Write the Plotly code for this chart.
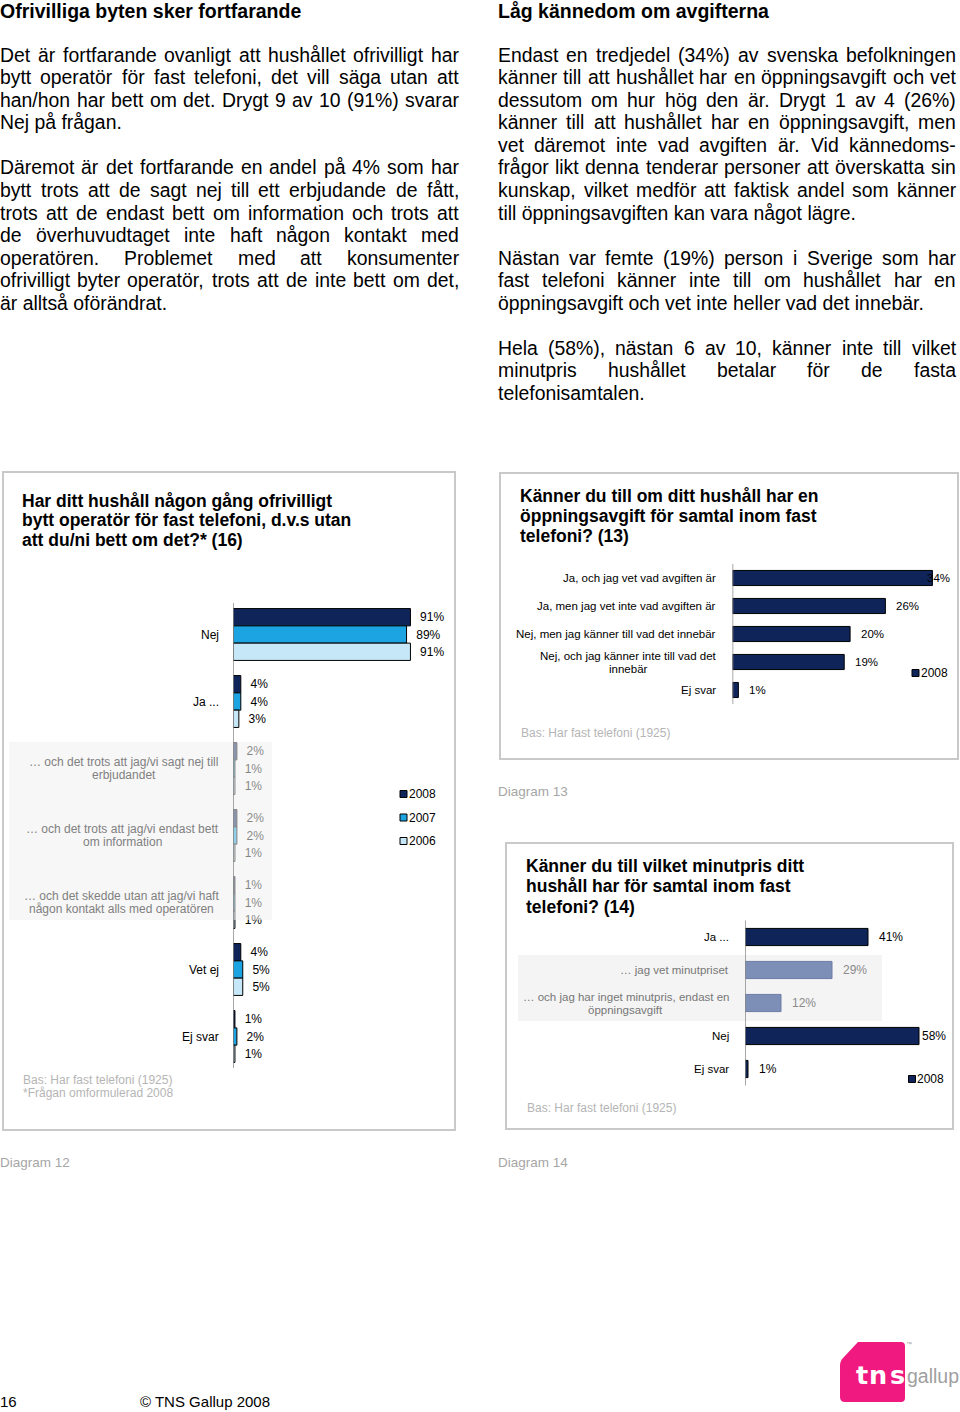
import plotly.graph_objects as go

PAGE_W, PAGE_H = 960, 1412
FONT = "Liberation Sans, Arial, Helvetica, sans-serif"

# ------------------------------------------------------------------ page text
left_heading = "Ofrivilliga byten sker fortfarande"
left_paragraphs = [
    ["Det är fortfarande ovanligt att hushållet ofrivilligt har",
     "bytt operatör för fast telefoni, det vill säga utan att",
     "han/hon har bett om det. Drygt 9 av 10 (91%) svarar",
     "Nej på frågan."],
    ["Däremot är det fortfarande en andel på 4% som har",
     "bytt trots att de sagt nej till ett erbjudande de fått,",
     "trots att de endast bett om information och trots att",
     "de överhuvudtaget inte haft någon kontakt med",
     "operatören. Problemet med att konsumenter",
     "ofrivilligt byter operatör, trots att de inte bett om det,",
     "är alltså oförändrat."],
]
right_heading = "Låg kännedom om avgifterna"
right_paragraphs = [
    ["Endast en tredjedel (34%) av svenska befolkningen",
     "känner till att hushållet har en öppningsavgift och vet",
     "dessutom om hur hög den är. Drygt 1 av 4 (26%)",
     "känner till att hushållet har en öppningsavgift, men",
     "vet däremot inte vad avgiften är. Vid kännedoms-",
     "frågor likt denna tenderar personer att överskatta sin",
     "kunskap, vilket medför att faktisk andel som känner",
     "till öppningsavgiften kan vara något lägre."],
    ["Nästan var femte (19%) person i Sverige som har",
     "fast telefoni känner inte till om hushållet har en",
     "öppningsavgift och vet inte heller vad det innebär."],
    ["Hela (58%), nästan 6 av 10, känner inte till vilket",
     "minutpris hushållet betalar för de fasta",
     "telefonisamtalen."],
]

# ------------------------------------------------------------------ chart 12 data
d12_title = ["Har ditt hushåll någon gång ofrivilligt",
             "bytt operatör för fast telefoni, d.v.s utan",
             "att du/ni bett om det?* (16)"]
d12_categories = ["Nej", "Ja ...",
                  "… och det trots att jag/vi sagt nej till<br>erbjudandet",
                  "… och det trots att jag/vi endast bett<br>om information",
                  "… och det skedde utan att jag/vi haft<br>någon kontakt alls med operatören",
                  "Vet ej", "Ej svar"]
d12_sub_rows = [2, 3, 4]
d12_years = ["2008", "2007", "2006"]
d12_2008 = [91, 4, 2, 2, 1, 4, 1]
d12_2007 = [89, 4, 1, 2, 1, 5, 2]
d12_2006 = [91, 3, 1, 1, 1, 5, 1]
d12_notes = ["Bas: Har fast telefoni (1925)", "*Frågan omformulerad 2008"]
d12_caption = "Diagram 12"

# ------------------------------------------------------------------ chart 13 data
d13_title = ["Känner du till om ditt hushåll har en",
             "öppningsavgift för samtal inom fast",
             "telefoni? (13)"]
d13_categories = ["Ja, och jag vet vad avgiften är",
                  "Ja, men jag vet inte vad avgiften är",
                  "Nej, men jag känner till vad det innebär",
                  "Nej, och jag känner inte till vad det<br>innebär",
                  "Ej svar"]
d13_series = "2008"
d13_2008 = [34, 26, 20, 19, 1]
d13_note = "Bas: Har fast telefoni (1925)"
d13_caption = "Diagram 13"

# ------------------------------------------------------------------ chart 14 data
d14_title = ["Känner du till vilket minutpris ditt",
             "hushåll har för samtal inom fast",
             "telefoni? (14)"]
d14_categories = ["Ja ...", "… jag vet minutpriset",
                  "… och jag har inget minutpris, endast en<br>öppningsavgift",
                  "Nej", "Ej svar"]
d14_sub_rows = [1, 2]
d14_series = "2008"
d14_2008 = [41, 29, 12, 58, 1]
d14_note = "Bas: Har fast telefoni (1925)"
d14_caption = "Diagram 14"

footer_page = "16"
footer_copy = "© TNS Gallup 2008"

# ------------------------------------------------------------------ styles
NAVY = "#0f2459"
BLUE = "#1ca3e1"
LIGHT = "#c6e7f8"
SUBBAR = "#7d8eb7"
GRAYTXT = "#808080"
NOTE = "#b5b5b5"
CAPTION = "#a6a6a6"
BOXLINE = "#c9c9c9"
AXISLINE = "#8a8a8a"
PINK = "#f0197f"
colors12 = [NAVY, BLUE, LIGHT]


def X(px):
    return px / PAGE_W


def Y(py):
    return 1 - py / PAGE_H


# Arial / Liberation Sans advance widths (1/1000 em)
_W = {c: 556 for c in "0123456789"}
_W.update({' ': 278, '!': 278, '%': 889, '(': 333, ')': 333, '*': 389, ',': 278, '-': 333,
           '.': 278, '/': 278, ':': 278, '?': 556, '…': 1000, '©': 737,
           'A': 667, 'B': 667, 'C': 722, 'D': 722, 'E': 667, 'F': 611, 'G': 778, 'H': 722,
           'I': 278, 'J': 500, 'K': 667, 'L': 556, 'M': 833, 'N': 722, 'O': 778, 'P': 667,
           'Q': 778, 'R': 722, 'S': 667, 'T': 611, 'U': 722, 'V': 667, 'W': 944, 'X': 667,
           'Y': 667, 'Z': 611,
           'a': 556, 'b': 556, 'c': 500, 'd': 556, 'e': 556, 'f': 278, 'g': 556, 'h': 556,
           'i': 222, 'j': 222, 'k': 500, 'l': 222, 'm': 833, 'n': 556, 'o': 556, 'p': 556,
           'q': 556, 'r': 333, 's': 500, 't': 278, 'u': 556, 'v': 500, 'w': 722, 'x': 500,
           'y': 500, 'z': 500, 'å': 556, 'ä': 556, 'ö': 556, 'Å': 667, 'Ä': 667, 'Ö': 778,
           'é': 556})


def tw(s, size):
    return sum(_W.get(c, 556) for c in s) * size / 1000.0


annotations = []
shapes = []


def add_text(x, y, text, size, color="#000000", bold=False, xanchor="left",
             family=FONT, align="left", yanchor="middle"):
    if bold:
        text = "<b>" + text + "</b>"
    annotations.append(dict(x=X(x), y=Y(y), xref="paper", yref="paper", text=text,
                            showarrow=False, xanchor=xanchor, yanchor=yanchor, align=align,
                            font=dict(size=size, color=color, family=family),
                            borderpad=0, borderwidth=0))


def add_justified(paragraphs, x0, x1, y0, dy, size):
    line_no = 0
    for para in paragraphs:
        for k, line in enumerate(para):
            y = y0 + line_no * dy
            words = line.split(" ")
            if k == len(para) - 1 or len(words) == 1:
                add_text(x0, y, line, size)
            else:
                ws = [tw(w, size) for w in words]
                gap = (x1 - x0 - sum(ws)) / (len(words) - 1)
                x = x0
                for w, wd in zip(words, ws):
                    add_text(x, y, w, size)
                    x += wd + gap
            line_no += 1
        line_no += 1


def add_cat_label(yref, idx, text, right_px, size, color, line_gap=13):
    lines = text.split("<br>")
    base = dict(xref="paper", y=idx, yref=yref, showarrow=False, yanchor="middle",
                borderpad=0, borderwidth=0, font=dict(size=size, color=color, family=FONT))
    if len(lines) == 1:
        annotations.append(dict(base, x=X(right_px), text=text, xanchor="right"))
    else:
        maxw = max(tw(l, size) for l in lines)
        cx = right_px - maxw / 2.0
        n = len(lines)
        for j, l in enumerate(lines):
            annotations.append(dict(base, x=X(cx), text=l, xanchor="center",
                                    yshift=-(j - (n - 1) / 2.0) * line_gap))


def add_value_labels(xref, yref, values, x0_px, px_per_unit, limit_px, size, colors):
    """Value labels after the bar end; pulled back inside the chart area when needed."""
    for i, v in enumerate(values):
        lbl = f"{v}%"
        end_px = x0_px + v * px_per_unit
        base = dict(y=i, yref=yref, text=lbl, yanchor="middle", showarrow=False,
                    borderpad=0, borderwidth=0,
                    font=dict(size=size, color=colors[i], family=FONT))
        if end_px + 11 + tw(lbl, size) > limit_px:
            annotations.append(dict(base, x=X(limit_px), xref="paper", xanchor="right"))
        else:
            annotations.append(dict(base, x=v, xref=xref, xanchor="left", xshift=11))


def rect(x0, y0, x1, y1, **kw):
    shapes.append(dict(type="rect", xref="paper", yref="paper",
                       x0=X(x0), x1=X(x1), y0=Y(y1), y1=Y(y0), **kw))


def legend_item(x, y, color, label):
    rect(x, y - 3.5, x + 7, y + 3.5, fillcolor=color, line=dict(color="#000000", width=1),
         layer="above")
    add_text(x + 8.5, y, label, 12)


NB = "\u00a0\u00a0"

# ------------------------------------------------------------------ top text
add_text(0, 0, left_heading, 19.5, bold=True, yanchor="top")
add_text(498, 0, right_heading, 19.5, bold=True, yanchor="top")
add_justified(left_paragraphs, 0, 459, 54.7, 22.55, 19.4)
add_justified(right_paragraphs, 498, 956, 54.7, 22.55, 19.4)

fig = go.Figure()

# ------------------------------------------------------------------ chart 12
rect(3, 472, 455, 1130, line=dict(color=BOXLINE, width=2), fillcolor="rgba(0,0,0,0)",
     layer="below")
for k, t in enumerate(d12_title):
    add_text(22, 500.9 + k * 19.5, t, 17.5, bold=True)

bar_w12 = 0.258
for j, (name, vals) in enumerate(zip(d12_years, [d12_2008, d12_2007, d12_2006])):
    fig.add_trace(go.Bar(
        y=d12_categories, x=vals, orientation="h", name=name,
        width=bar_w12, offset=-1.5 * bar_w12 + j * bar_w12,
        marker=dict(color=colors12[j], line=dict(color="#000000", width=1)),
        text=[NB + f"{v}%" for v in vals], textposition="outside",
        textfont=dict(size=12, color="#000000", family=FONT),
        constraintext="none", cliponaxis=False, hoverinfo="skip",
        xaxis="x", yaxis="y"))

for i, c in enumerate(d12_categories):
    sub = i in d12_sub_rows
    add_cat_label("y", i, c, 218.5, 12, GRAYTXT if sub else "#000000")

# faded band over the sub-answer rows
shapes.append(dict(type="rect", xref="paper", yref="paper", x0=X(9), x1=X(272),
                   y0=Y(920), y1=Y(742), fillcolor="rgba(241,241,241,0.55)",
                   line=dict(width=0), layer="above"))
shapes.append(dict(type="line", xref="x", yref="y domain", x0=0, x1=0, y0=0.004, y1=0.996,
                   line=dict(color=AXISLINE, width=1.5), layer="above"))
for j, name in enumerate(d12_years):
    legend_item(400, 794 + j * 23.5, colors12[j], name)
for k, t in enumerate(d12_notes):
    add_text(23, 1080 + k * 13.3, t, 12, color=NOTE)
add_text(0, 1162, d12_caption, 13.5, color=CAPTION)

# ------------------------------------------------------------------ chart 13
rect(500, 473, 958, 759, line=dict(color=BOXLINE, width=2), fillcolor="rgba(0,0,0,0)",
     layer="below")
for k, t in enumerate(d13_title):
    add_text(520, 495.6 + k * 20, t, 17.5, bold=True)

X13_0, X13_PX = 732.5, 5.88
fig.add_trace(go.Bar(
    y=d13_categories, x=d13_2008, orientation="h", name=d13_series,
    width=0.54, offset=-0.27,
    marker=dict(color=NAVY, line=dict(color="#000000", width=1)),
    hoverinfo="skip", cliponaxis=False, xaxis="x2", yaxis="y2"))
for i, c in enumerate(d13_categories):
    add_cat_label("y2", i, c, 716, 11.5, "#000000")
add_value_labels("x2", "y2", d13_2008, X13_0, X13_PX, 950, 11.5,
                 ["#000000"] * len(d13_2008))
shapes.append(dict(type="line", xref="x2", yref="y2 domain", x0=0, x1=0, y0=0, y1=1,
                   line=dict(color=AXISLINE, width=1.5), layer="above"))
legend_item(912, 673, NAVY, d13_series)
add_text(521, 732.7, d13_note, 12, color=NOTE)
add_text(498, 791, d13_caption, 13.5, color=CAPTION)

# ------------------------------------------------------------------ chart 14
rect(506, 843, 953, 1129, line=dict(color=BOXLINE, width=2), fillcolor="rgba(0,0,0,0)",
     layer="below")
rect(518, 955, 882, 1021, fillcolor="#f4f4f4", line=dict(width=0), layer="below")
for k, t in enumerate(d14_title):
    add_text(525.5, 865.6 + k * 20.5, t, 17.5, bold=True)

X14_0, X14_PX = 745, 3.0
is_sub14 = [i in d14_sub_rows for i in range(len(d14_categories))]
fig.add_trace(go.Bar(
    y=d14_categories, x=d14_2008, orientation="h", name=d14_series,
    width=0.52, offset=-0.26,
    marker=dict(color=[SUBBAR if s else NAVY for s in is_sub14],
                line=dict(color=["#6b7ca6" if s else "#000000" for s in is_sub14], width=1)),
    hoverinfo="skip", cliponaxis=False, xaxis="x3", yaxis="y3"))
for i, c in enumerate(d14_categories):
    add_cat_label("y3", i, c, 729, 11.5, "#777777" if is_sub14[i] else "#000000")
add_value_labels("x3", "y3", d14_2008, X14_0, X14_PX, 946, 12,
                 ["#8a8a8a" if s else "#000000" for s in is_sub14])
shapes.append(dict(type="line", xref="x3", yref="y3 domain", x0=0, x1=0, y0=0, y1=1,
                   line=dict(color=AXISLINE, width=1.5), layer="above"))
legend_item(908.5, 1079, NAVY, d14_series)
add_text(526.5, 1108, d14_note, 12, color=NOTE)
add_text(498, 1162, d14_caption, 13.5, color=CAPTION)

# ------------------------------------------------------------------ footer + logo
add_text(0, 1401, footer_page, 15)
add_text(140, 1401, footer_copy, 15)


def P(x, y):
    return f"{X(x):.5f},{Y(y):.5f}"


logo_path = ("M " + P(858, 1342) + " L " + P(901, 1342) + " Q " + P(905, 1342) + " " +
             P(905, 1346) + " L " + P(905, 1398) + " Q " + P(905, 1402) + " " + P(901, 1402) +
             " L " + P(845, 1402) + " Q " + P(840, 1402) + " " + P(840, 1397) +
             " L " + P(840, 1366) + " Q " + P(840, 1361) + " " + P(843, 1358) + " Z")
shapes.append(dict(type="path", xref="paper", yref="paper", path=logo_path,
                   fillcolor=PINK, line=dict(width=0), layer="above"))
for ch, cx in zip("tns", [861.5, 878.3, 897.3]):
    add_text(cx, 1375.2, ch, 25.5, color="#ffffff", bold=True, xanchor="center",
             family="DejaVu Sans, Liberation Sans, sans-serif")
add_text(907, 1376, "gallup", 19.5, color="#a0a0a0")
add_text(906, 1344, "™", 6, color="#9b9b9b")

# ------------------------------------------------------------------ layout
def xax(x0, x1, rng, anchor):
    return dict(domain=[X(x0), X(x1)], range=rng, visible=False, fixedrange=True,
                anchor=anchor, showgrid=False, zeroline=False)


def yax(top, bottom, cats, anchor):
    return dict(domain=[Y(bottom), Y(top)], type="category", categoryorder="array",
                categoryarray=cats, range=[len(cats) - 0.5, -0.5], visible=False,
                fixedrange=True, anchor=anchor, showgrid=False, zeroline=False)


fig.update_layout(
    width=PAGE_W, height=PAGE_H, margin=dict(l=0, r=0, t=0, b=0, pad=0),
    paper_bgcolor="white", plot_bgcolor="rgba(0,0,0,0)",
    barmode="overlay", showlegend=False, font=dict(family=FONT, color="#000000"),
    xaxis=xax(233, 233 + 112 * 1.95, [0, 112], "y"),
    yaxis=yax(601, 1070, d12_categories, "x"),
    xaxis2=xax(X13_0, X13_0 + 38 * X13_PX, [0, 38], "y2"),
    yaxis2=yax(564, 704, d13_categories, "x2"),
    xaxis3=xax(X14_0, X14_0 + 69 * X14_PX, [0, 69], "y3"),
    yaxis3=yax(920.5, 1085.5, d14_categories, "x3"),
    annotations=annotations, shapes=shapes,
)

fig.write_html("out.html", config={"displayModeBar": False, "staticPlot": True},
               post_script="document.body.style.margin='0';document.body.style.padding='0';"
                           "document.documentElement.style.overflow='hidden';")
